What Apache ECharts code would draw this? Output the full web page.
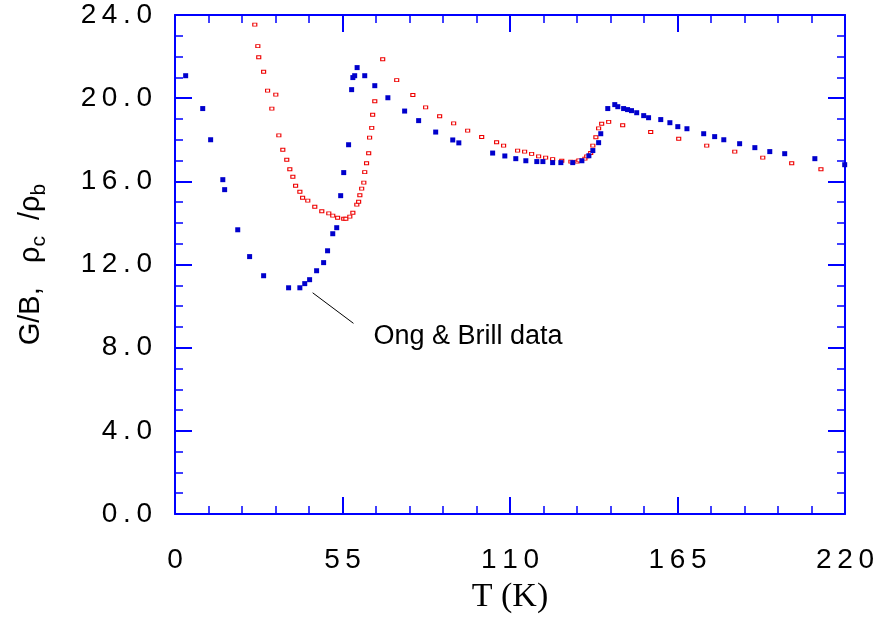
<!DOCTYPE html>
<html>
<head>
<meta charset="utf-8">
<script src="https://cdn.jsdelivr.net/npm/echarts@6/dist/echarts.min.js"></script>
<style>html,body{margin:0;padding:0;background:#fff;}#c{width:883px;height:620px;}</style>
</head>
<body>
<div id="c"></div>
<script>
// G/B (calculated) vs T, red open squares
const gbData = [[26.2,23.54],[27.2,22.5],[27.5,21.97],[29.1,21.27],[30.4,20.36],[31.8,19.5],[33.1,20.17],[34.1,18.21],[35.4,17.52],[36.7,17.04],[37.7,16.58],[38.7,16.22],[39.6,15.79],[41.0,15.5],[41.9,15.21],[43.6,15.07],[45.9,14.78],[48.2,14.56],[50.5,14.46],[51.8,14.35],[53.4,14.25],[55.4,14.2],[56.1,14.2],[57.4,14.3],[58.4,14.49],[59.7,14.88],[60.3,15.02],[60.7,15.33],[61.3,15.65],[62.0,15.94],[62.3,16.44],[62.9,16.87],[63.6,17.35],[63.9,18.1],[64.6,18.57],[64.9,19.2],[65.6,19.85],[68.2,21.87],[72.8,20.87],[78.1,20.15],[82.3,19.56],[86.9,19.13],[91.5,18.79],[96.1,18.44],[100.7,18.13],[105.6,17.88],[107.9,17.72],[112.5,17.48],[114.8,17.43],[117.1,17.32],[119.4,17.2],[121.7,17.14],[124.0,17.07],[127.0,16.99],[130.0,16.95],[132.0,16.95],[132.6,17.01],[134.6,17.09],[135.2,17.2],[136.5,17.36],[137.2,17.72],[138.2,18.12],[139.1,18.55],[140.1,18.77],[142.4,18.86],[147.0,18.7],[156.2,18.37],[165.4,18.05],[174.6,17.72],[183.8,17.43],[193.0,17.14],[202.5,16.87],[212.1,16.58]];
// Ong & Brill resistivity ratio data, blue filled squares
const ongBrillData = [[3.5,21.08],[9.1,19.5],[11.7,18.0],[15.7,16.08],[16.3,15.6],[20.6,13.67],[24.5,12.38],[29.1,11.46],[37.3,10.88],[41.0,10.88],[42.6,11.08],[44.2,11.27],[46.5,11.7],[48.8,12.09],[50.1,12.66],[51.8,13.48],[53.1,13.77],[54.4,15.31],[55.4,16.42],[57.0,17.76],[58.0,20.41],[58.4,20.99],[59.0,21.08],[59.8,21.47],[62.3,21.08],[65.6,20.6],[69.9,20.02],[75.4,19.38],[80.0,18.92],[85.6,18.37],[91.2,17.99],[93.2,17.85],[104.3,17.36],[108.3,17.22],[111.9,17.09],[115.2,16.99],[118.8,16.95],[120.8,16.95],[124.0,16.9],[126.7,16.9],[130.6,16.9],[133.6,16.99],[135.9,17.23],[137.2,17.48],[139.1,17.86],[139.8,18.29],[142.1,19.5],[144.4,19.69],[145.4,19.59],[147.3,19.5],[148.6,19.45],[149.9,19.4],[151.6,19.3],[153.9,19.16],[155.5,19.06],[159.5,18.97],[162.5,18.82],[165.1,18.63],[168.1,18.53],[173.6,18.29],[177.2,18.15],[180.2,18.0],[185.4,17.81],[190.4,17.62],[195.3,17.43],[200.2,17.33],[210.1,17.09],[219.9,16.8]];
const xTicks = [0, 55, 110, 165, 220];
const yTicks = [0, 4, 8, 12, 16, 20, 24];
const annotText = 'Ong & Brill data';
const annotLine = [[45.2, 10.64], [58.6, 9.17]];
const annotTextAt = [65.0, 8.55];

const spaced = s => String(s).split('').join('\u2009');
const AX = '#0000ff';
const sans = '"Liberation Sans", Arial, sans-serif';

const chart = echarts.init(document.getElementById('c'), null, {renderer: 'canvas'});
function axisCommon(min, max, interval, minorSplit) {
  return {
    type: 'value', min: min, max: max, interval: interval,
    axisLine: {show: true, onZero: false, lineStyle: {color: AX, width: 2}},
    axisTick: {show: true, inside: true, length: 17, lineStyle: {color: AX, width: 2}},
    minorTick: {show: true, splitNumber: minorSplit, length: 8, lineStyle: {color: AX, width: 1.5}},
    splitLine: {show: false}
  };
}
const xMain = Object.assign(axisCommon(xTicks[0], xTicks[xTicks.length-1], xTicks[1]-xTicks[0], 5), {
  position: 'bottom',
  axisLabel: {show: true, margin: 32, color: '#000', fontFamily: sans, fontSize: 28,
    formatter: v => xTicks.includes(v) ? spaced(v) : ''},
  name: 'T (K)', nameLocation: 'middle', nameGap: 66,
  nameTextStyle: {fontFamily: '"Liberation Serif", "Times New Roman", serif', fontSize: 34, color: '#000'}
});
const xTop = Object.assign(axisCommon(xTicks[0], xTicks[xTicks.length-1], xTicks[1]-xTicks[0], 5), {
  position: 'top', axisLabel: {show: false}
});
const yMain = Object.assign(axisCommon(yTicks[0], yTicks[yTicks.length-1], yTicks[1]-yTicks[0], 4), {
  position: 'left',
  axisLabel: {show: true, margin: 23, color: '#000', fontFamily: sans, fontSize: 28,
    formatter: v => spaced(v.toFixed(1))},
  name: '{a|G/B,   ρ}{s|c}{a|  /ρ}{s|b}', nameLocation: 'middle', nameGap: 122, nameRotate: 90,
  nameTextStyle: {color: '#000', fontFamily: sans, fontSize: 29,
    rich: {a: {fontFamily: sans, fontSize: 29, color: '#000', lineHeight: 44},
           s: {fontFamily: sans, fontSize: 21, color: '#000', padding: [16, 0, 0, 0]}}}
});
const yRight = Object.assign(axisCommon(yTicks[0], yTicks[yTicks.length-1], yTicks[1]-yTicks[0], 4), {
  position: 'right', axisLabel: {show: false}
});

chart.setOption({
  animation: false,
  backgroundColor: '#fff',
  grid: {left: 175, right: 38, top: 15, bottom: 106, containLabel: false},
  xAxis: [xMain, xTop],
  yAxis: [yMain, yRight],
  series: [
    {
      name: 'G/B', type: 'scatter', xAxisIndex: 0, yAxisIndex: 0,
      data: gbData, symbol: 'rect', symbolSize: [4, 3],
      itemStyle: {color: '#ffffff', borderColor: '#ee0000', borderWidth: 1, opacity: 1},
      z: 3
    },
    {
      name: 'Ong & Brill', type: 'scatter', xAxisIndex: 0, yAxisIndex: 0,
      data: ongBrillData, symbol: 'rect', symbolSize: 5,
      itemStyle: {color: '#0000cc', opacity: 1},
      z: 4,
      markLine: {
        silent: true, symbol: 'none', animation: false,
        lineStyle: {color: '#000', width: 1, type: 'solid'},
        label: {show: false},
        data: [[{coord: annotLine[0]}, {coord: annotLine[1]}]]
      },
      markPoint: {
        silent: true, symbol: 'circle', symbolSize: 1,
        itemStyle: {color: 'rgba(0,0,0,0)'},
        label: {show: true, position: 'right', distance: 0, formatter: annotText,
          color: '#000', fontFamily: sans, fontSize: 27},
        data: [{coord: annotTextAt}]
      }
    }
  ]
});
</script>
</body>
</html>
